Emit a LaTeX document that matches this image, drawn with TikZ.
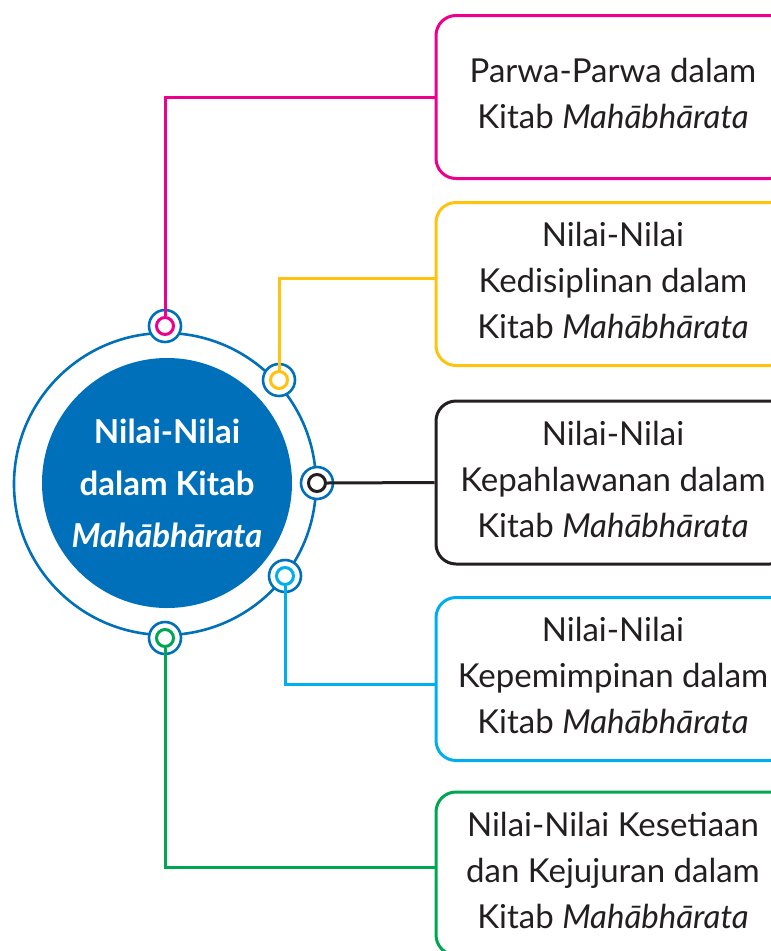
\documentclass[tikz,border=0pt]{standalone}
\usepackage{fontspec}
\setmainfont{Lato}
\definecolor{kitabblue}{HTML}{0070BA}
\definecolor{parwapink}{HTML}{EC008C}
\definecolor{disiplinyellow}{HTML}{FFC20E}
\definecolor{pahlawanblack}{HTML}{231F20}
\definecolor{pimpincyan}{HTML}{00AEEF}
\definecolor{setiagreen}{HTML}{00A651}
\tikzset{
  valuebox/.style={draw=#1, line width=3pt, rounded corners=20pt,
    minimum width=354pt, minimum height=163pt, align=center, text depth=7pt,
    text=pahlawanblack, font=\fontsize{33}{46}\selectfont},
  port/.style={circle, draw=kitabblue, fill=white, line width=2.6pt,
    minimum size=32pt, inner sep=0pt},
  portring/.style={circle, draw=#1, fill=white, line width=3pt,
    minimum size=17pt, inner sep=0pt},
  link/.style={draw=#1, line width=3pt},
}
\begin{document}
\begin{tikzpicture}[x=1pt, y=-1pt]
  \useasboundingbox (0,0) rectangle (771,951);
  \clip (0,0) rectangle (771,951);
  % hub
  \node[circle, draw=kitabblue, line width=2.6pt, minimum size=302pt] (hub) at (165,484) {};
  \node[circle, fill=kitabblue, minimum size=250pt, align=center, text=white,
    font=\bfseries\fontsize{33}{52}\selectfont] (core) at (167,483)
    {Nilai-Nilai\\dalam Kitab\\\textit{Mahābhārata}};
  % ports on the ring
  \node[port] (p1) at (165,326) {};
  \node[port] (p2) at (279,380) {};
  \node[port] (p3) at (317,483) {};
  \node[port] (p4) at (285,576) {};
  \node[port] (p5) at (165,638) {};
  \node[portring=parwapink] (r1) at (p1) {};
  \node[portring=disiplinyellow] (r2) at (p2) {};
  \node[portring=pahlawanblack] (r3) at (p3) {};
  \node[portring=pimpincyan] (r4) at (p4) {};
  \node[portring=setiagreen] (r5) at (p5) {};
  % value boxes
  \node[valuebox=parwapink] (b1) at (613,97)
    {Parwa-Parwa dalam\\Kitab \textit{Mahābhārata}};
  \node[valuebox=disiplinyellow] (b2) at (613,284)
    {Nilai-Nilai\\Kedisiplinan dalam\\Kitab \textit{Mahābhārata}};
  \node[valuebox=pahlawanblack] (b3) at (613,482.5)
    {Nilai-Nilai\\Kepahlawanan dalam\\Kitab \textit{Mahābhārata}};
  \node[valuebox=pimpincyan] (b4) at (613,679)
    {Nilai-Nilai\\Kepemimpinan dalam\\Kitab \textit{Mahābhārata}};
  \node[valuebox=setiagreen] (b5) at (613,873.5)
    {Nilai-Nilai Kesetiaan\\dan Kejujuran dalam\\Kitab \textit{Mahābhārata}};
  % connectors
  \draw[link=parwapink] (r1.north) |- (b1.west);
  \draw[link=disiplinyellow] (r2.north) |- ([yshift=6pt]b2.west);
  \draw[link=pahlawanblack] (r3.east) -- (b3.west);
  \draw[link=pimpincyan] (r4.south) |- ([yshift=-5pt]b4.west);
  \draw[link=setiagreen] (r5.south) |- ([yshift=6.5pt]b5.west);
\end{tikzpicture}
\end{document}
